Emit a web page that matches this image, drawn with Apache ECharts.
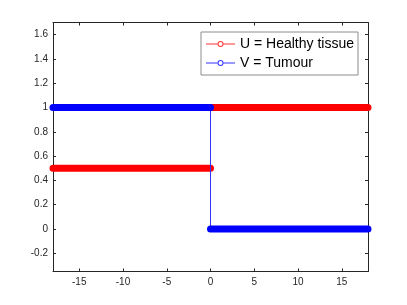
<!DOCTYPE html>
<html><head><meta charset="utf-8">
<script src="https://cdn.jsdelivr.net/npm/echarts@6/dist/echarts.min.js"></script>
<style>html,body{margin:0;padding:0;background:#fff}#c{width:407px;height:305px}</style>
</head><body><div id="c"></div>
<script>
// Data (step functions)
const uX = [-18, 0, 0, 18];
const uY = [0.5, 0.5, 1, 1];
const vX = [-18, 0, 0, 18];
const vY = [1, 1, 0, 0];
const xTicks = [-15, -10, -5, 0, 5, 10, 15];
const yTicks = [-0.2, 0, 0.2, 0.4, 0.6, 0.8, 1, 1.2, 1.4, 1.6];
const names = ['U = Healthy tissue', 'V = Tumour'];
const colors = ['#ff0000', '#0000ff'];

const pts = (xs, ys) => xs.map((x, i) => [x, ys[i]]);
// thick band: horizontal parts only (break at the jump)
const bands = (xs, ys) => [[xs[0], ys[0]], [xs[1], ys[1]], [xs[1], '-'], [xs[2], ys[2]], [xs[3], ys[3]]];

// legend glyph: thin line with an open circle in the middle
const legendIcon = 'path://M0 3H11.5V4H0Z M17.5 3H29V4H17.5Z ' +
  'M11.5 3.5A3 3 0 1 0 17.5 3.5A3 3 0 1 0 11.5 3.5Z ' +
  'M12.5 3.5A2 2 0 1 1 16.5 3.5A2 2 0 1 1 12.5 3.5Z';

const font = 'Liberation Sans, Arial, Helvetica, sans-serif';
const axCol = '#262626';
const chart = echarts.init(document.getElementById('c'), null, {renderer: 'canvas'});
const xBase = (pos, show) => ({
  type: 'value', position: pos, min: -18, max: 18,
  splitLine: {show: false},
  axisLine: {show: true, onZero: false, lineStyle: {color: axCol, width: 1}},
  axisTick: {show: true, inside: true, length: 3, customValues: xTicks, lineStyle: {color: axCol}},
  axisLabel: {show: show, customValues: xTicks, color: axCol, fontSize: 10, fontFamily: font, margin: 6}
});
const yBase = (pos, show) => ({
  type: 'value', position: pos, min: -0.35, max: 1.7,
  splitLine: {show: false},
  axisLine: {show: true, onZero: false, lineStyle: {color: axCol, width: 1}},
  axisTick: {show: true, inside: true, length: 3, customValues: yTicks, lineStyle: {color: axCol}},
  axisLabel: {show: show, customValues: yTicks, color: axCol, fontSize: 10, fontFamily: font, margin: 5}
});
chart.setOption({
  animation: false,
  backgroundColor: '#fff',
  grid: {left: 53, right: 39, top: 22.5, bottom: 33.5},
  xAxis: [xBase('bottom', true), xBase('top', false)],
  yAxis: [yBase('left', true), yBase('right', false)],
  legend: {
    data: names.map((n, i) => ({
      name: n, icon: legendIcon,
      itemStyle: {color: colors[i], opacity: 0.8, borderWidth: 0}
    })),
    orient: 'vertical', right: 49, top: 32,
    backgroundColor: '#fff', borderColor: '#8c8c8c', borderWidth: 1, borderRadius: 0,
    padding: [5, 4, 5, 5], itemWidth: 29, itemHeight: 6, itemGap: 5, itemTextGap: 5,
    textStyle: {fontSize: 14, fontFamily: font, color: '#000'}
  },
  series: [
    {name: 'U_band', type: 'line', data: bands(uX, uY), clip: false, showSymbol: false, symbol: 'none',
     lineStyle: {color: colors[0], width: 7, cap: 'round', join: 'round'}, z: 2},
    {name: names[0], type: 'line', data: pts(uX, uY), clip: false, symbol: 'emptyCircle', symbolSize: 6, showSymbol: false,
     itemStyle: {color: colors[0], borderColor: colors[0]}, lineStyle: {color: colors[0], width: 1}, z: 1},
    {name: 'V_band', type: 'line', data: bands(vX, vY), clip: false, showSymbol: false, symbol: 'none',
     lineStyle: {color: colors[1], width: 7, cap: 'round', join: 'round'}, z: 4},
    {name: names[1], type: 'line', data: pts(vX, vY), clip: false, symbol: 'emptyCircle', symbolSize: 6, showSymbol: false,
     itemStyle: {color: colors[1], borderColor: colors[1]}, lineStyle: {color: '#3333ff', width: 1}, z: 3}
  ]
});
</script></body></html>
